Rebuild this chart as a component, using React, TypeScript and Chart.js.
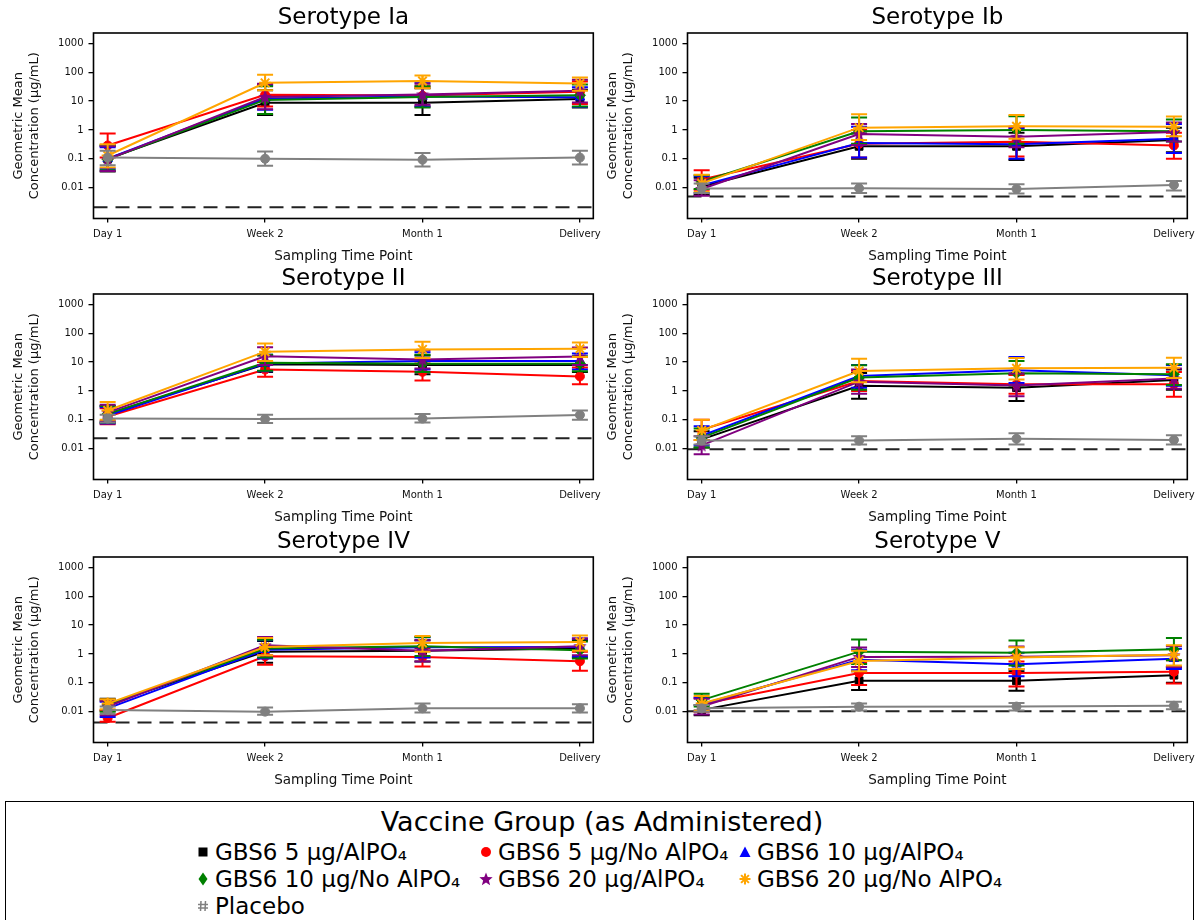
import React, { useEffect, useRef } from "react";
import { Chart, registerables } from "chart.js";

Chart.register(...registerables);

// ---------------- data ----------------
const TIME_POINTS = ["Day 1", "Week 2", "Month 1", "Delivery"];
const SEROTYPES = ["Serotype Ia", "Serotype Ib", "Serotype II", "Serotype III", "Serotype IV", "Serotype V"];
const GROUP_LABELS = [
  "GBS6 5 µg/AlPO₄",
  "GBS6 5 µg/No AlPO₄",
  "GBS6 10 µg/AlPO₄",
  "GBS6 10 µg/No AlPO₄",
  "GBS6 20 µg/AlPO₄",
  "GBS6 20 µg/No AlPO₄",
  "Placebo",
];
const GROUP_COLORS = ["#000000", "#ff0000", "#0000ff", "#008000", "#800080", "#ffa500", "#808080"];
const Y_TICKS = [0.01, 0.1, 1, 10, 100, 1000];
const Y_TITLE = ["Geometric Mean", "Concentration (µg/mL)"];
const X_TITLE = "Sampling Time Point";
const LEGEND_TITLE = "Vaccine Group (as Administered)";
// lower limit of quantitation (dashed line), one per serotype
const LLOQ = [0.0021, 0.0049, 0.023, 0.0095, 0.0042, 0.0104];

// rows: black, red, blue, green, purple, orange, grey ; columns: time points
const IA_GMC = [
  [0.1, 8.8, 8.8, 11.9],
  [0.29, 16.5, 15.5, 21],
  [0.1, 12.3, 14.5, 13.6],
  [0.095, 11, 14, 16],
  [0.095, 14, 17, 23],
  [0.13, 43, 50, 41],
  [0.11, 0.1, 0.093, 0.11],
];
const IA_LO = [
  [0.036, 3.3, 3.3, 6.0],
  [0.11, 6.5, 6.5, 8],
  [0.045, 5.0, 6.5, 6.2],
  [0.04, 3.6, 6.0, 6.5],
  [0.038, 5.2, 7.5, 9],
  [0.05, 24, 28, 23],
  [0.06, 0.057, 0.054, 0.063],
];
const IA_HI = [
  [0.28, 24, 28, 25],
  [0.76, 38, 33, 48],
  [0.25, 35, 45, 30],
  [0.3, 33, 33, 38],
  [0.27, 40, 40, 55],
  [0.32, 82, 78, 66],
  [0.19, 0.18, 0.16, 0.19],
];

const IB_GMC = [
  [0.011, 0.27, 0.27, 0.45],
  [0.019, 0.33, 0.39, 0.29],
  [0.012, 0.35, 0.32, 0.5],
  [0.016, 0.9, 1.0, 0.9],
  [0.009, 0.72, 0.58, 0.85],
  [0.014, 1.2, 1.35, 1.3],
  [0.0093, 0.0095, 0.009, 0.0123],
];
const IB_LO = [
  [0.0055, 0.1, 0.09, 0.17],
  [0.0085, 0.11, 0.12, 0.1],
  [0.0065, 0.11, 0.1, 0.16],
  [0.009, 0.33, 0.33, 0.4],
  [0.0052, 0.3, 0.25, 0.4],
  [0.007, 0.45, 0.5, 0.6],
  [0.0065, 0.0065, 0.0062, 0.0079],
];
const IB_HI = [
  [0.022, 0.75, 0.8, 1.2],
  [0.04, 1.0, 1.2, 0.8],
  [0.025, 1.3, 1.1, 1.6],
  [0.027, 2.7, 3.0, 2.3],
  [0.018, 1.6, 1.3, 1.8],
  [0.028, 3.5, 3.3, 2.9],
  [0.014, 0.014, 0.013, 0.017],
];

const II_GMC = [
  [0.16, 8.4, 7.9, 8.0],
  [0.13, 5.5, 4.6, 3.2],
  [0.14, 9.0, 11, 11],
  [0.16, 9.5, 8.8, 8.8],
  [0.18, 16, 12.4, 15.8],
  [0.21, 23, 27.6, 29],
  [0.11, 0.106, 0.11, 0.147],
];
const II_LO = [
  [0.08, 4.5, 3.8, 4.5],
  [0.07, 3.1, 2.3, 1.7],
  [0.075, 4.8, 5.5, 5.5],
  [0.08, 5, 4.5, 4.8],
  [0.09, 8, 6, 8],
  [0.1, 11, 14, 15],
  [0.08, 0.077, 0.08, 0.1],
];
const II_HI = [
  [0.3, 17, 17, 15],
  [0.25, 10, 9, 6.5],
  [0.27, 18, 22, 20],
  [0.3, 18, 18, 16],
  [0.33, 33, 26, 32],
  [0.41, 44, 51, 48],
  [0.15, 0.15, 0.16, 0.21],
];

const III_GMC = [
  [0.021, 1.5, 1.3, 2.4],
  [0.045, 2.2, 1.7, 1.7],
  [0.028, 3.3, 5.2, 3.5],
  [0.024, 2.9, 4.1, 3.8],
  [0.013, 2.1, 1.56, 2.7],
  [0.043, 4.9, 6.1, 6.4],
  [0.019, 0.019, 0.022, 0.02],
];
const III_LO = [
  [0.011, 0.54, 0.45, 1.1],
  [0.02, 1.0, 0.8, 0.63],
  [0.013, 1.3, 1.9, 1.5],
  [0.011, 1.1, 1.5, 1.6],
  [0.0064, 0.8, 0.65, 1.2],
  [0.02, 2.0, 2.5, 2.8],
  [0.014, 0.014, 0.014, 0.014],
];
const III_HI = [
  [0.04, 4.2, 3.8, 5.5],
  [0.1, 5, 3.6, 4.5],
  [0.06, 8, 15, 8],
  [0.05, 7.8, 11, 8.5],
  [0.027, 5.5, 4, 6],
  [0.1, 13, 14, 14.3],
  [0.027, 0.027, 0.034, 0.029],
];

const IV_GMC = [
  [0.018, 1.2, 1.3, 1.55],
  [0.006, 0.83, 0.79, 0.56],
  [0.013, 1.4, 1.7, 1.75],
  [0.017, 1.54, 1.85, 1.35],
  [0.015, 2.0, 1.3, 1.85],
  [0.019, 1.75, 2.4, 2.6],
  [0.0113, 0.01, 0.013, 0.013],
];
const IV_LO = [
  [0.011, 0.5, 0.55, 0.75],
  [0.0045, 0.42, 0.37, 0.26],
  [0.0065, 0.7, 0.75, 0.8],
  [0.01, 0.75, 0.85, 0.7],
  [0.0075, 0.9, 0.55, 0.9],
  [0.012, 0.9, 1.2, 1.3],
  [0.0085, 0.0078, 0.0093, 0.0093],
];
const IV_HI = [
  [0.028, 2.8, 3.0, 3.0],
  [0.011, 1.6, 1.6, 1.2],
  [0.022, 3.0, 3.8, 3.4],
  [0.025, 3.1, 3.9, 2.7],
  [0.024, 3.9, 3.0, 3.4],
  [0.027, 3.6, 4.2, 4.4],
  [0.015, 0.014, 0.019, 0.018],
];

const V_GMC = [
  [0.0115, 0.117, 0.117, 0.184],
  [0.018, 0.22, 0.22, 0.24],
  [0.018, 0.63, 0.44, 0.68],
  [0.025, 1.2, 1.1, 1.45],
  [0.015, 0.79, 0.8, 0.9],
  [0.019, 0.57, 0.75, 0.93],
  [0.013, 0.0148, 0.015, 0.016],
];
const V_LO = [
  [0.0075, 0.056, 0.053, 0.1],
  [0.01, 0.083, 0.075, 0.095],
  [0.011, 0.27, 0.17, 0.3],
  [0.015, 0.45, 0.4, 0.6],
  [0.008, 0.35, 0.3, 0.35],
  [0.011, 0.25, 0.3, 0.4],
  [0.01, 0.011, 0.011, 0.012],
];
const V_HI = [
  [0.017, 0.25, 0.25, 0.35],
  [0.03, 0.5, 0.55, 0.6],
  [0.03, 1.4, 1.1, 1.5],
  [0.042, 3.2, 2.9, 3.6],
  [0.028, 1.66, 1.8, 1.9],
  [0.035, 1.3, 1.7, 2.0],
  [0.017, 0.019, 0.02, 0.022],
];

const PANELS = [
  { gmc: IA_GMC, lo: IA_LO, hi: IA_HI },
  { gmc: IB_GMC, lo: IB_LO, hi: IB_HI },
  { gmc: II_GMC, lo: II_LO, hi: II_HI },
  { gmc: III_GMC, lo: III_LO, hi: III_HI },
  { gmc: IV_GMC, lo: IV_LO, hi: IV_HI },
  { gmc: V_GMC, lo: V_LO, hi: V_HI },
];

// ---------------- styling / layout ----------------
const FONT = "'DejaVu Sans', sans-serif";
const X_MIN = -0.09;
const X_MAX = 3.085;
const Y_MIN = 0.00085;
const Y_MAX = 2300;
const CANVAS_W = 612;
const CANVAS_H = 266;
const COL_LEFT = [0, 594];
const ROW_TOP = [0, 261, 524];
const CAP = 8;

function makeStar(color: string, size: number) {
  const c = document.createElement("canvas");
  c.width = size;
  c.height = size;
  const g = c.getContext("2d")!;
  const cx = size / 2;
  const cy = size / 2 + 0.5;
  const R = size / 2;
  const r = R * 0.42;
  g.beginPath();
  for (let k = 0; k < 10; k++) {
    const ang = -Math.PI / 2 + (k * Math.PI) / 5;
    const rad = k % 2 ? r : R;
    g.lineTo(cx + rad * Math.cos(ang), cy + rad * Math.sin(ang));
  }
  g.closePath();
  g.fillStyle = color;
  g.fill();
  return c;
}

const errorBarPlugin = {
  id: "errorBars",
  beforeDatasetDraw(chart: any, args: any) {
    const ds = chart.data.datasets[args.index];
    if (!ds.errLo) return;
    const yScale = chart.scales.y;
    const ctx = chart.ctx;
    const area = chart.chartArea;
    ctx.save();
    ctx.beginPath();
    ctx.rect(area.left, area.top, area.right - area.left, area.bottom - area.top);
    ctx.clip();
    ctx.strokeStyle = ds.borderColor;
    ctx.lineWidth = 2;
    args.meta.data.forEach((pt: any, i: number) => {
      const x = pt.x;
      const yl = yScale.getPixelForValue(ds.errLo[i]);
      const yh = yScale.getPixelForValue(ds.errHi[i]);
      ctx.beginPath();
      ctx.moveTo(x, yl);
      ctx.lineTo(x, yh);
      ctx.moveTo(x - CAP, yl);
      ctx.lineTo(x + CAP, yl);
      ctx.moveTo(x - CAP, yh);
      ctx.lineTo(x + CAP, yh);
      ctx.stroke();
    });
    ctx.restore();
  },
};

const framePlugin = {
  id: "frame",
  afterDatasetsDraw(chart: any) {
    const { ctx, chartArea: a } = chart;
    ctx.save();
    ctx.strokeStyle = "#000";
    ctx.lineWidth = 1.6;
    ctx.strokeRect(a.left, a.top, a.right - a.left, a.bottom - a.top);
    ctx.restore();
  },
};

function Panel({ index }: { index: number }) {
  const ref = useRef<HTMLCanvasElement>(null);
  useEffect(() => {
    const p = PANELS[index];
    const star = makeStar(GROUP_COLORS[4], 14);
    const pointStyles: any[] = ["rect", "circle", "triangle", "rectRot", star, "star", "circle"];
    const radii = [5.5, 4.5, 5.5, 5.5, 7, 6, 4.5];
    const datasets: any[] = GROUP_LABELS.map((label, g) => ({
      type: "line",
      label,
      data: TIME_POINTS.map((_, i) => ({ x: i, y: p.gmc[g][i] })),
      errLo: p.lo[g],
      errHi: p.hi[g],
      borderColor: GROUP_COLORS[g],
      backgroundColor: GROUP_COLORS[g],
      pointBackgroundColor: GROUP_COLORS[g],
      pointBorderColor: GROUP_COLORS[g],
      pointStyle: pointStyles[g],
      pointRadius: radii[g],
      pointBorderWidth: g === 5 ? 2 : 1,
      borderWidth: 2,
      tension: 0,
      order: GROUP_LABELS.length - g,
    }));
    datasets.push({
      type: "line",
      label: "LLOQ",
      data: [
        { x: X_MIN, y: LLOQ[index] },
        { x: X_MAX, y: LLOQ[index] },
      ],
      borderColor: "#222",
      borderWidth: 2,
      borderDash: [14, 8],
      pointRadius: 0,
      order: 100,
    });

    const chart = new Chart(ref.current!, {
      type: "line",
      data: { datasets },
      plugins: [errorBarPlugin, framePlugin],
      options: {
        animation: false,
        responsive: false,
        devicePixelRatio: 1,
        layout: { padding: { left: 0, right: CANVAS_W - 593.3, top: 0, bottom: 0 } },
        plugins: {
          legend: { display: false },
          tooltip: { enabled: false },
          title: {
            display: true,
            text: SEROTYPES[index],
            fullSize: false,
            color: "#000",
            font: { family: FONT, size: 23, weight: "normal", lineHeight: 1.2 },
            padding: { top: 4, bottom: 1.4 },
          },
        },
        scales: {
          x: {
            type: "linear",
            min: X_MIN,
            max: X_MAX,
            afterBuildTicks: (scale: any) => {
              scale.ticks = TIME_POINTS.map((_, i) => ({ value: i }));
            },
            afterFit: (scale: any) => {
              scale.height = 47.5;
            },
            grid: {
              display: true,
              drawOnChartArea: false,
              drawTicks: true,
              tickLength: 4,
              color: "#000",
              lineWidth: 1.3,
            },
            border: { display: false },
            ticks: {
              autoSkip: false,
              maxRotation: 0,
              padding: 6,
              color: "#111",
              font: { family: FONT, size: 10, lineHeight: 1.2 },
              callback: (v: any) => TIME_POINTS[v] ?? "",
            },
            title: {
              display: true,
              text: X_TITLE,
              color: "#111",
              font: { family: FONT, size: 13.5, lineHeight: 1.2 },
              padding: { top: 0, bottom: 1 },
            },
          },
          y: {
            type: "logarithmic",
            min: Y_MIN,
            max: Y_MAX,
            afterBuildTicks: (scale: any) => {
              scale.ticks = Y_TICKS.map((v) => ({ value: v }));
            },
            afterFit: (scale: any) => {
              scale.width = 93.5;
            },
            grid: {
              display: true,
              drawOnChartArea: false,
              drawTicks: true,
              tickLength: 5,
              color: "#000",
              lineWidth: 1.3,
            },
            border: { display: false },
            ticks: {
              padding: 5,
              color: "#111",
              font: { family: FONT, size: 10, lineHeight: 1.2 },
              callback: (v: any) => String(v),
            },
            title: {
              display: true,
              text: Y_TITLE,
              color: "#111",
              font: { family: FONT, size: 13, lineHeight: 1.2 },
              padding: { top: 11, bottom: 0 },
            },
          },
        },
      } as any,
    });
    return () => chart.destroy();
  }, [index]);

  const col = index % 2;
  const row = Math.floor(index / 2);
  return (
    <canvas
      ref={ref}
      width={CANVAS_W}
      height={CANVAS_H}
      style={{ position: "absolute", left: COL_LEFT[col], top: ROW_TOP[row], width: CANVAS_W, height: CANVAS_H }}
    />
  );
}

function Marker({ g }: { g: number }) {
  const c = GROUP_COLORS[g];
  const s = 16;
  let shape: any = null;
  if (g === 0) shape = <rect x={3.5} y={3.5} width={9} height={9} fill={c} />;
  else if (g === 1) shape = <circle cx={8} cy={8} r={5} fill={c} />;
  else if (g === 2) shape = <polygon points="8,2.5 13.5,13 2.5,13" fill={c} />;
  else if (g === 3) shape = <polygon points="8,1.5 12.5,8 8,14.5 3.5,8" fill={c} />;
  else if (g === 4) {
    const pts: string[] = [];
    for (let k = 0; k < 10; k++) {
      const ang = -Math.PI / 2 + (k * Math.PI) / 5;
      const rad = k % 2 ? 3 : 7;
      pts.push(`${8 + rad * Math.cos(ang)},${8.5 + rad * Math.sin(ang)}`);
    }
    shape = <polygon points={pts.join(" ")} fill={c} />;
  } else if (g === 5) {
    const lines: any[] = [];
    for (let k = 0; k < 4; k++) {
      const ang = (k * Math.PI) / 4;
      lines.push(
        <line
          key={k}
          x1={8 - 5.5 * Math.cos(ang)}
          y1={8 - 5.5 * Math.sin(ang)}
          x2={8 + 5.5 * Math.cos(ang)}
          y2={8 + 5.5 * Math.sin(ang)}
          stroke={c}
          strokeWidth={2}
        />
      );
    }
    shape = <g>{lines}</g>;
  } else {
    shape = (
      <g stroke={c} strokeWidth={1.5}>
        <line x1={6} y1={3} x2={5.5} y2={13} />
        <line x1={10.5} y1={3} x2={10} y2={13} />
        <line x1={3} y1={6.5} x2={13} y2={6.5} />
        <line x1={3} y1={10} x2={13} y2={10} />
      </g>
    );
  }
  return (
    <svg width={s} height={s} viewBox="0 0 16 16" style={{ display: "block" }}>
      {shape}
    </svg>
  );
}

const LEGEND_MARKER_X = [203, 486, 745];
const LEGEND_TEXT_X = [215, 498, 757];
const LEGEND_ROW_Y = [852, 879, 906];

function Legend() {
  return (
    <>
      <div
        style={{
          position: "absolute",
          left: 5,
          top: 801,
          width: 1189,
          height: 140,
          border: "1.5px solid #000",
          boxSizing: "border-box",
        }}
      />
      <div
        style={{
          position: "absolute",
          left: 602,
          top: 806,
          transform: "translateX(-50%)",
          whiteSpace: "nowrap",
          fontFamily: FONT,
          fontSize: 27,
          lineHeight: "32px",
          color: "#000",
        }}
      >
        {LEGEND_TITLE}
      </div>
      {GROUP_LABELS.map((label, g) => {
        const col = g % 3;
        const row = Math.floor(g / 3);
        const y = LEGEND_ROW_Y[row];
        return (
          <React.Fragment key={g}>
            <div style={{ position: "absolute", left: LEGEND_MARKER_X[col] - 8, top: y - 8 }}>
              <Marker g={g} />
            </div>
            <div
              style={{
                position: "absolute",
                left: LEGEND_TEXT_X[col],
                top: y - 14,
                whiteSpace: "nowrap",
                fontFamily: FONT,
                fontSize: 23,
                lineHeight: "28px",
                color: "#000",
              }}
            >
              {label}
            </div>
          </React.Fragment>
        );
      })}
    </>
  );
}

export default function App() {
  return (
    <div
      style={{
        position: "absolute",
        left: 0,
        top: 0,
        width: 1198,
        height: 920,
        overflow: "hidden",
        background: "#fff",
      }}
    >
      {SEROTYPES.map((_, i) => (
        <Panel key={i} index={i} />
      ))}
      <Legend />
    </div>
  );
}
